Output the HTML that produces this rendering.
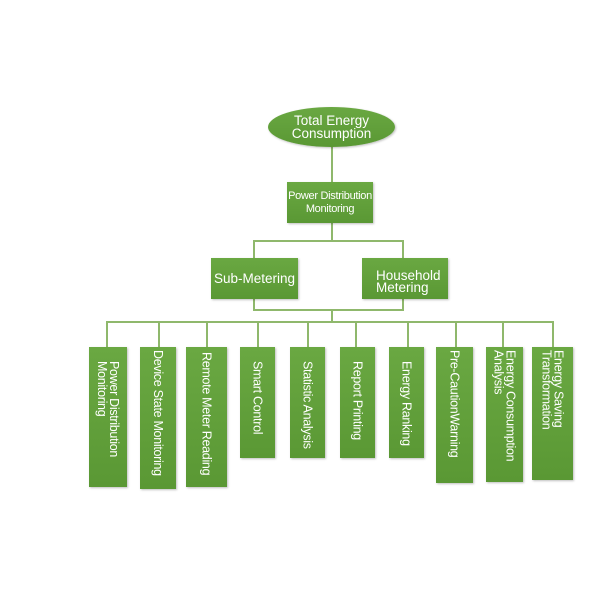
<!DOCTYPE html>
<html><head><style>
body{margin:0;width:600px;height:600px;background:#fff;position:relative;overflow:hidden;font-family:"Liberation Sans",sans-serif}
.l{position:absolute;background:#8fb86c}
.b{position:absolute;background:linear-gradient(#6aa842,#5a9834);color:#fff;box-shadow:1px 1px 2px rgba(0,0,0,.25);font-size:12.5px;line-height:13px;box-sizing:border-box;white-space:nowrap}
.h{display:flex;align-items:center;justify-content:center;text-align:center}
.v{writing-mode:vertical-rl;display:flex;align-items:center;text-align:left;font-size:12.5px;line-height:12px;letter-spacing:-0.3px}
</style></head><body>
<div class="l" style="left:331px;top:146px;width:2px;height:36px"></div>
<div class="l" style="left:331px;top:222px;width:2px;height:20px"></div>
<div class="l" style="left:253px;top:240px;width:150px;height:2px"></div>
<div class="l" style="left:253px;top:240px;width:2px;height:18px"></div>
<div class="l" style="left:402px;top:240px;width:2px;height:18px"></div>
<div class="l" style="left:253px;top:298px;width:2px;height:12px"></div>
<div class="l" style="left:402px;top:298px;width:2px;height:12px"></div>
<div class="l" style="left:253px;top:309px;width:151px;height:2px"></div>
<div class="l" style="left:331px;top:309px;width:2px;height:14px"></div>
<div class="l" style="left:106px;top:321px;width:448px;height:2px"></div>
<div class="l" style="left:106px;top:321px;width:2px;height:26px"></div>
<div class="l" style="left:158px;top:321px;width:2px;height:26px"></div>
<div class="l" style="left:206px;top:321px;width:2px;height:26px"></div>
<div class="l" style="left:257px;top:321px;width:2px;height:26px"></div>
<div class="l" style="left:307px;top:321px;width:2px;height:26px"></div>
<div class="l" style="left:355px;top:321px;width:2px;height:26px"></div>
<div class="l" style="left:407px;top:321px;width:2px;height:26px"></div>
<div class="l" style="left:455px;top:321px;width:2px;height:26px"></div>
<div class="l" style="left:502px;top:321px;width:2px;height:26px"></div>
<div class="l" style="left:552px;top:321px;width:2px;height:26px"></div>
<div class="b h" style="left:268px;top:107px;width:127px;height:40px;border-radius:50%;font-size:13.5px;line-height:13px">Total Energy<br>Consumption</div>
<div class="b h" style="left:287px;top:182px;width:86px;height:41px;font-size:11px;line-height:13px;letter-spacing:-0.3px">Power Distribution<br>Monitoring</div>
<div class="b h" style="left:211px;top:258px;width:87px;height:41px;font-size:13.5px">Sub-Metering</div>
<div class="b" style="left:362px;top:258px;width:86px;height:41px;font-size:13.5px;line-height:12px;padding:12px 0 0 14px">Household<br>Metering</div>
<div class="b v" style="left:89px;top:347px;width:38px;height:140px;padding-top:14px">Power Distribution<br>Monitoring</div>
<div class="b v" style="left:140px;top:347px;width:36px;height:142px;padding-top:3px">Device State Monitoring</div>
<div class="b v" style="left:186px;top:347px;width:41px;height:140px;padding-top:5px">Remote Meter Reading</div>
<div class="b v" style="left:240px;top:347px;width:35px;height:111px;padding-top:14px">Smart Control</div>
<div class="b v" style="left:290px;top:347px;width:35px;height:111px;padding-top:14px">Statistic Analysis</div>
<div class="b v" style="left:340px;top:347px;width:35px;height:111px;padding-top:14px">Report Printing</div>
<div class="b v" style="left:389px;top:347px;width:35px;height:111px;padding-top:14px">Energy Ranking</div>
<div class="b v" style="left:436px;top:347px;width:37px;height:136px;padding-top:3px">Pre-CautionWarning</div>
<div class="b v" style="left:486px;top:347px;width:37px;height:135px;padding-top:3px">Energy Consumption<br>Analysis</div>
<div class="b v" style="left:532px;top:347px;width:41px;height:133px;padding-top:3px">Energy Saving<br>Transformation</div>
</body></html>
